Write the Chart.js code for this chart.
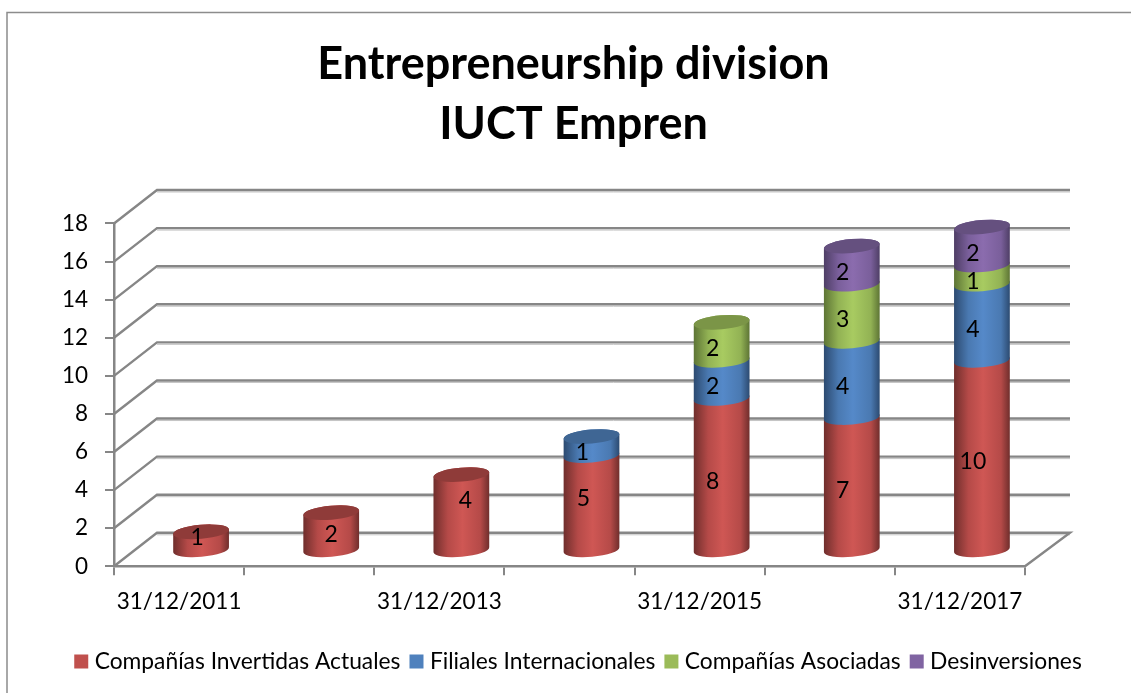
<!DOCTYPE html>
<html><head><meta charset="utf-8">
<style>html,body{margin:0;padding:0;background:#fff}canvas{display:block}</style>
<script src="https://cdn.jsdelivr.net/npm/chart.js@4"></script>
</head><body><canvas id="c" width="1131" height="693"></canvas>
<script>
const categories = ['31/12/2011','31/12/2012','31/12/2013','31/12/2014','31/12/2015','31/12/2016','31/12/2017'];
const invertidas = [1,2,4,5,8,7,10];
const filiales = [null,null,null,1,2,4,4];
const asociadas = [null,null,null,null,2,3,1];
const desinversiones = [null,null,null,null,null,2,2];
const yTicks = [0,2,4,6,8,10,12,14,16,18];

const FONT = 'Lato, Carlito, Calibri, sans-serif';
const GRID = '#868686';
// perspective of the 3-D box
const DEPTH_X = 43, DEPTH_Y = 33.5, BACK_RIGHT_EXTRA = 2;
const BAR_DX = 22, BAR_DY = 15.5, CAP_B = 7, TILT = -5 * Math.PI / 180;
const LEGEND_SHIFT = 7;
// shading per series: edge, mid, peak, cap
const shades = [
  ['#6f2e2c','#b54a48','#cf5754','#8f3b39'],
  ['#2c4a70','#4a79b1','#5589c9','#3f6694'],
  ['#5d7435','#92b254','#a8cb61','#7b9547'],
  ['#4e3e65','#7a5f9b','#8b6cae','#65507f']
];
// label nudges: Excel places a few labels off the usual spot
const LABEL_DX = -9, LABEL_DY = 7;
const labelNudge = {'0:0':[-4,-3],'0:1':[0,3],'0:2':[4,-12],'0:3':[-8,-4]};

const cyl3d = {
  id:'cyl3d',
  afterLayout(chart){
    chart.legend.left += LEGEND_SHIFT;
    chart.legend.right += LEGEND_SHIFT;
  },
  beforeDraw(chart){
    const ctx = chart.ctx, {left,right} = chart.chartArea, y = chart.scales.y;
    ctx.save();
    ctx.fillStyle='#fff'; ctx.fillRect(0,0,chart.width,chart.height);
    // outer frame
    ctx.strokeStyle='#8c8c8c'; ctx.lineWidth=1.5;
    ctx.beginPath(); ctx.moveTo(7,693); ctx.lineTo(7,12.5); ctx.lineTo(1131,12.5); ctx.stroke();
    const bx = left+DEPTH_X, rx = right+DEPTH_X+BACK_RIGHT_EXTRA;
    y.ticks.forEach((t,i)=>{
      const yf = y.getPixelForValue(t.value), yb = yf-DEPTH_Y;
      ctx.strokeStyle='#c4c4c4'; ctx.lineWidth=1;
      ctx.beginPath(); ctx.moveTo(bx,yb+2); ctx.lineTo(rx,yb+2); ctx.stroke();
      ctx.strokeStyle=GRID; ctx.lineWidth=2.4;
      ctx.beginPath(); ctx.moveTo(left,yf); ctx.lineTo(bx,yb); ctx.lineTo(rx,yb);
      if(t.value===0){ ctx.lineTo(right,yf); }
      ctx.stroke();
    });
    ctx.restore();
  },
  beforeDatasetsDraw(chart){
    const ctx = chart.ctx;
    const n = chart.data.labels.length, dsCount = chart.data.datasets.length;
    for(let j=0;j<n;j++){
      let topIdx=-1;
      for(let d=0;d<dsCount;d++) if(chart.data.datasets[d].data[j]!=null) topIdx=d;
      for(let d=0;d<dsCount;d++){
        if(chart.data.datasets[d].data[j]==null) continue;
        const el = chart.getDatasetMeta(d).data[j];
        const cx = el.x+BAR_DX, a = el.width/2, yt = el.y-BAR_DY, yb = el.base-BAR_DY;
        const [edge,mid,peak,cap] = shades[d];
        const c = Math.cos(TILT)*a, s = Math.sin(TILT)*a;
        const g = ctx.createLinearGradient(cx-a,0,cx+a,0);
        g.addColorStop(0,edge); g.addColorStop(0.26,mid); g.addColorStop(0.52,peak); g.addColorStop(0.84,mid); g.addColorStop(1,edge);
        ctx.beginPath();
        ctx.moveTo(cx-c,yt-s);
        ctx.lineTo(cx-c,yb-s);
        ctx.ellipse(cx,yb,a,CAP_B,TILT,Math.PI,0,true);
        ctx.lineTo(cx+c,yt+s);
        ctx.ellipse(cx,yt,a,CAP_B,TILT,0,Math.PI,true);
        ctx.closePath();
        ctx.fillStyle=g; ctx.fill();
        if(d===topIdx){
          ctx.beginPath(); ctx.ellipse(cx,yt,a,CAP_B,TILT,0,Math.PI*2);
          ctx.fillStyle=cap; ctx.fill();
        }
      }
    }
    // data labels
    ctx.save();
    ctx.font='23px '+FONT; ctx.fillStyle='#000'; ctx.textAlign='center'; ctx.textBaseline='middle';
    for(let d=0;d<dsCount;d++) for(let j=0;j<n;j++){
      const v = chart.data.datasets[d].data[j];
      if(v==null) continue;
      const el = chart.getDatasetMeta(d).data[j];
      const nudge = labelNudge[d+':'+j] || [LABEL_DX,LABEL_DY];
      ctx.fillText(String(v), el.x+BAR_DX+nudge[0], (el.y+el.base)/2-BAR_DY+nudge[1]);
    }
    ctx.restore();
    return false;
  }
};

new Chart(document.getElementById('c'),{
  type:'bar',
  data:{labels:categories,datasets:[
    {label:'Compañías Invertidas Actuales',data:invertidas,backgroundColor:'#C0504D'},
    {label:'Filiales Internacionales',data:filiales,backgroundColor:'#4F81BD'},
    {label:'Compañías Asociadas',data:asociadas,backgroundColor:'#9BBB59'},
    {label:'Desinversiones',data:desinversiones,backgroundColor:'#8064A2'}
  ]},
  plugins:[cyl3d],
  options:{
    responsive:false,animation:false,
    layout:{padding:{left:16,right:0,top:34,bottom:10.2}},
    datasets:{bar:{barPercentage:0.43,categoryPercentage:1}},
    plugins:{
      tooltip:{enabled:false},
      title:{display:true,text:['Entrepreneurship division','IUCT Empren'],color:'#000',
        font:{family:FONT,size:45,weight:'bold',lineHeight:1.3333},padding:{top:0,bottom:69.5}},
      legend:{position:'bottom',align:'center',
        labels:{font:{family:FONT,size:22.8},color:'#000',boxWidth:4,boxHeight:4,padding:14,
          generateLabels(chart){
            return chart.data.datasets.map((ds,i)=>({text:ds.label,fillStyle:ds.backgroundColor,strokeStyle:ds.backgroundColor,lineWidth:10,datasetIndex:i,hidden:false}));
          }}}
    },
    scales:{
      x:{stacked:true,offset:true,
        afterFit(s){s.height=69.7;},
        border:{color:GRID,width:2.5},
        grid:{display:true,drawOnChartArea:false,drawTicks:true,tickLength:9,color:GRID,offset:true,lineWidth:2},
        ticks:{autoSkip:false,maxRotation:0,minRotation:0,padding:12.7,color:'#000',font:{family:FONT,size:22.5},
          callback(v,i){return i%2===0?this.getLabelForValue(v):'';}}
      },
      y:{stacked:true,min:0,max:18,
        afterFit(s){s.width=98;},
        afterBuildTicks(s){s.ticks=yTicks.map(v=>({value:v}));},
        border:{color:GRID,width:2.5},
        grid:{display:true,drawOnChartArea:false,drawTicks:true,tickLength:9,color:GRID,lineWidth:2},
        ticks:{padding:17,color:'#000',font:{family:FONT,size:22.5}}
      },
      depthMargin:{position:'right',min:0,max:18,
        afterFit(s){s.width=106;},
        border:{display:false},grid:{display:false},ticks:{display:false}
      }
    }
  }
});
</script></body></html>
